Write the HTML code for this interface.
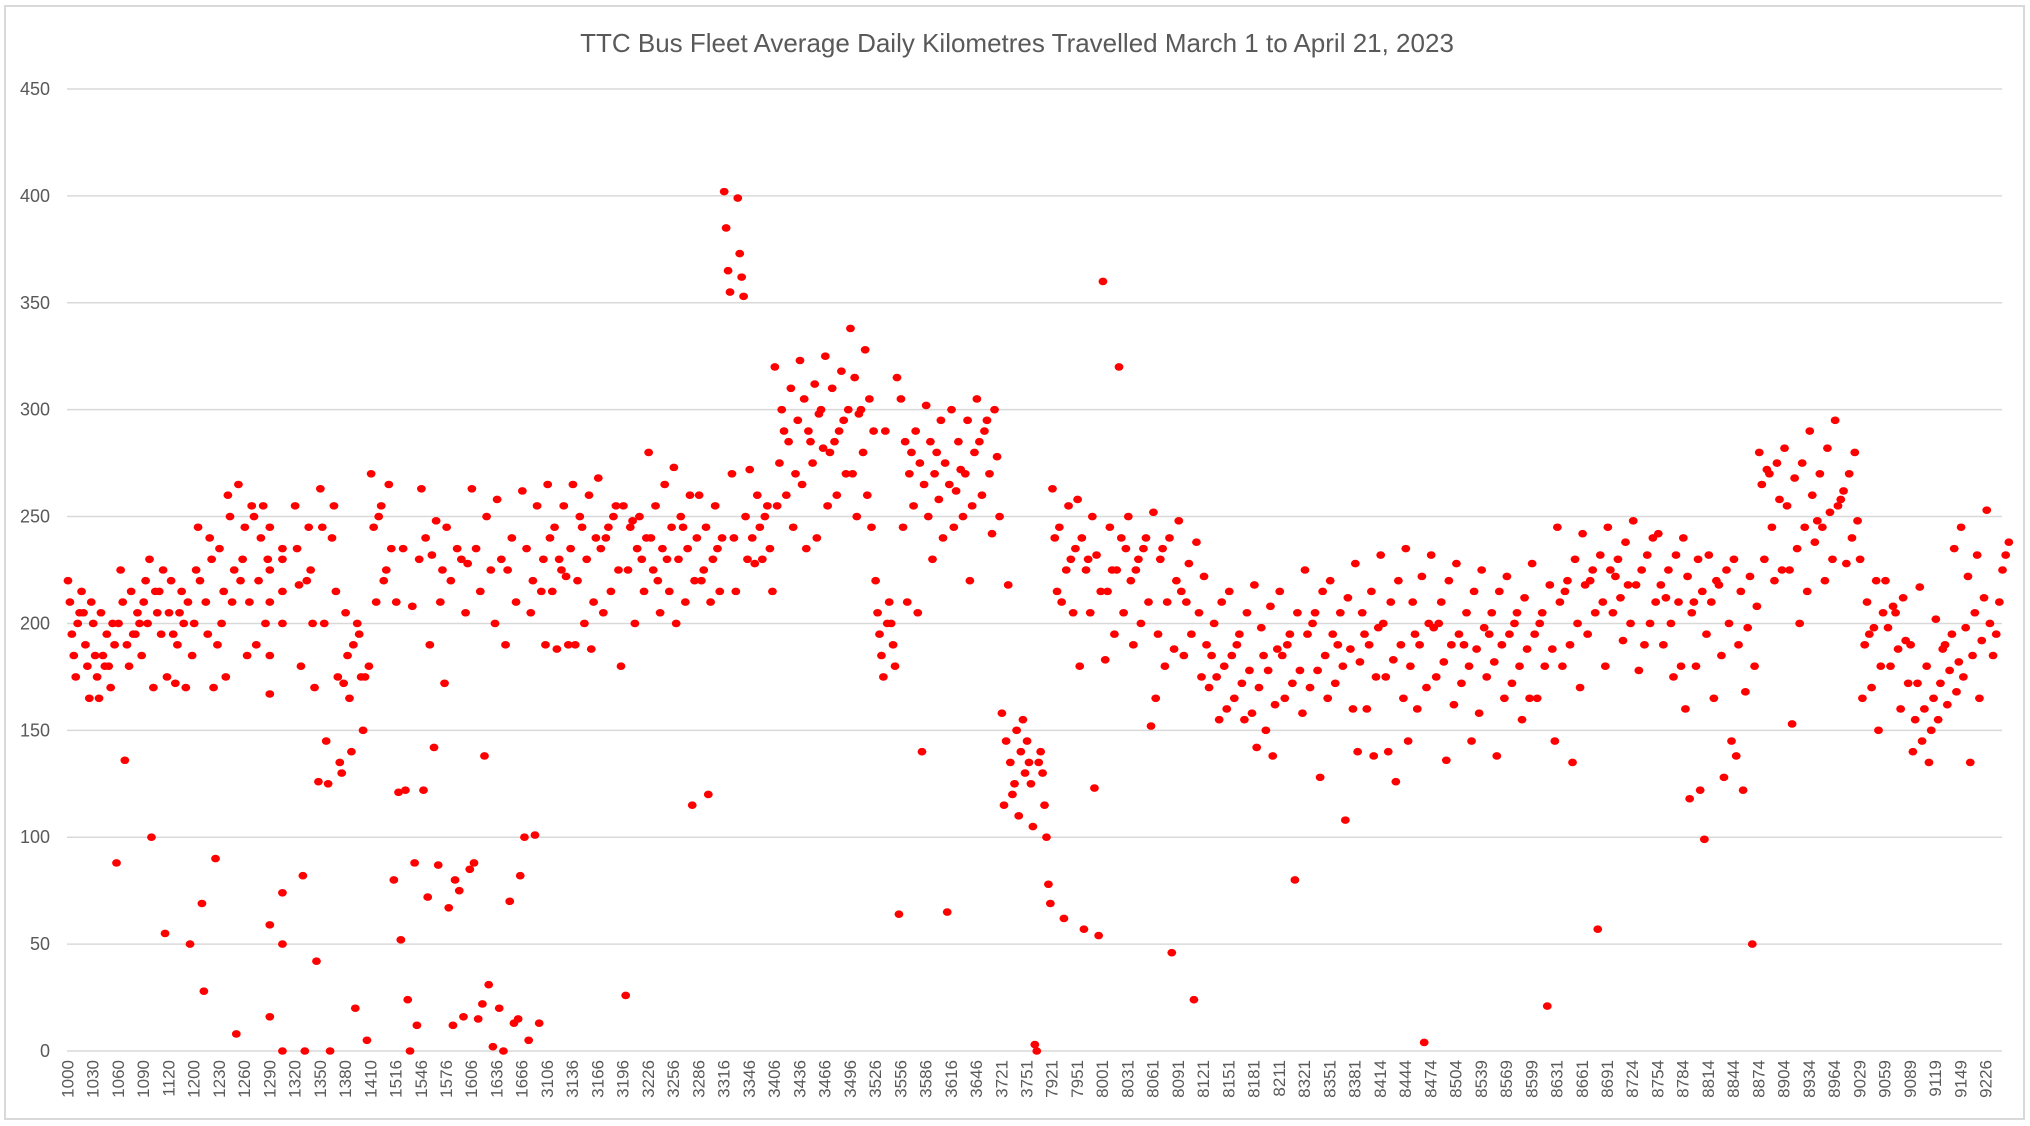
<!DOCTYPE html>
<html><head><meta charset="utf-8"><style>
html,body{margin:0;padding:0;background:#fff;}
svg{display:block;font-family:"Liberation Sans",sans-serif;}
</style></head><body>
<svg id="chart" width="2030" height="1126" viewBox="0 0 2030 1126">
<rect x="5" y="6" width="2019" height="1113" fill="#fff" stroke="#d9d9d9" stroke-width="2"/>
<text x="1017" y="52" text-anchor="middle" font-size="26" fill="#595959">TTC Bus Fleet Average Daily Kilometres Travelled March 1 to April 21, 2023</text>
<g id="grid"></g>
<g id="yticks"></g>
<g id="xticks"></g>
<g id="pts"></g>
</svg>
<script>
const categories = ["1000","1030","1060","1090","1120","1200","1230","1260","1290","1320","1350","1380","1410","1516","1546","1576","1606","1636","1666","3106","3136","3166","3196","3226","3256","3286","3316","3346","3406","3436","3466","3496","3526","3556","3586","3616","3646","3721","3751","7921","7951","8001","8031","8061","8091","8121","8151","8181","8211","8321","8351","8381","8414","8444","8474","8504","8539","8569","8599","8631","8661","8691","8724","8754","8784","8814","8844","8874","8904","8934","8964","9029","9059","9089","9119","9149","9226"];
const yTicks = [0,50,100,150,200,250,300,350,400,450];
const groupValues = [
[220,215,210,205,195,190,185,180,175,165,200,210,205],
[200,195,185,180,175,170,165,200,205,190,185,88,180],
[200,195,210,205,190,185,215,225,195,136,200,180],
[210,205,220,215,200,195,230,225,100,55,170,175,215],
[205,200,195,210,190,185,215,220,170,172,50,205],
[200,195,225,240,245,230,220,170,69,90,28,190,210],
[235,225,215,265,260,230,210,200,8,175,220,250],
[245,240,255,230,220,210,200,190,185,255,250],
[245,235,225,215,210,200,185,50,59,74,16,0,167,230],
[255,245,235,225,218,200,180,170,82,42,0,126,220],
[263,255,245,215,200,175,145,135,125,130,0,172,240],
[205,195,185,175,165,150,140,175,190,5,20,180,200],
[270,265,255,245,235,220,210,80,225,250],
[210,208,235,230,0,52,12,24,121,88,122],
[263,248,240,210,190,172,142,122,87,72,225,232],
[245,230,220,205,80,85,75,67,16,12,228,235],
[263,250,235,225,215,200,138,88,31,15,2,22],
[258,240,230,210,190,82,70,20,13,0,15,225],
[262,255,235,215,205,190,101,100,13,5,230,220],
[265,255,245,235,225,215,190,230,240,222,188],
[265,260,250,240,230,220,210,200,190,188,245],
[268,255,245,235,225,215,205,180,250,240],
[255,250,245,240,235,225,215,200,26,230,248],
[280,265,255,245,235,225,215,205,240,230,220],
[273,260,250,240,235,230,220,210,200,115,245],
[260,255,245,240,230,225,215,210,220,235,120],
[402,399,385,373,365,362,355,353,270,250,240,230,215],
[272,255,245,240,235,230,228,215,250,260],
[320,310,300,295,285,275,270,260,255,245,290],
[323,312,305,298,290,282,275,265,240,235,300,285],
[325,318,310,300,290,280,270,260,255,295,285],
[338,328,315,305,298,290,280,270,260,250,245,300],
[220,210,205,200,195,190,185,180,175,315,290,64,200],
[305,290,285,275,270,265,255,245,205,210,140,280],
[302,295,285,275,270,265,258,250,240,230,65,280],
[300,295,285,280,270,262,255,250,245,220,272],
[305,300,295,285,278,270,260,250,242,290],
[158,150,145,140,135,130,125,115,110,218,155,120],
[145,140,135,130,125,115,105,100,3,78,0,69,135],
[263,255,245,235,225,215,205,62,240,230,210],
[258,250,240,232,225,215,205,180,123,57,54,230],
[360,320,245,235,225,215,205,195,183,240,225],
[250,240,230,220,210,200,190,152,235,225],
[252,240,230,220,210,195,188,180,165,46,235],
[248,238,228,215,205,195,185,175,24,210],
[222,210,200,190,180,175,170,160,155,185],
[215,205,195,185,178,172,165,158,155,190],
[218,208,198,188,178,170,162,150,142,138,185],
[215,205,195,185,178,172,165,158,80,190],
[225,215,205,195,185,178,170,165,128,200],
[220,212,205,195,188,180,172,160,108,190],
[228,215,205,198,190,182,175,160,140,138,195],
[232,220,210,200,190,183,175,165,126,140],
[235,222,210,200,190,180,170,160,145,4,195],
[232,220,210,198,190,182,175,162,136,200],
[228,215,205,195,188,180,172,158,145,190],
[225,215,205,198,190,182,175,165,138,195],
[222,212,205,195,188,180,172,165,155,200],
[228,218,205,195,188,180,165,145,21,200],
[245,230,220,210,200,190,180,170,135,215],
[242,232,225,218,210,205,195,180,57,220],
[245,238,230,225,218,212,205,200,192,222],
[248,240,232,225,218,210,200,190,178],
[242,232,225,218,210,200,190,180,175,212],
[240,230,222,215,205,195,180,160,122,118,99,210],
[232,225,218,210,200,185,165,145,128,220],
[230,222,215,208,198,190,180,168,138,50,122],
[280,275,270,265,258,245,230,225,220,272],
[282,275,268,255,245,235,225,215,200,153],
[290,282,270,260,252,245,238,230,220,248],
[295,280,270,262,255,248,240,228,258],
[230,220,210,205,198,190,180,170,165,150,195],
[220,212,205,198,192,188,180,172,160,208],
[190,180,172,165,160,155,150,145,140,135,217],
[202,195,188,182,178,172,168,162,155,235,190],
[245,232,222,212,205,198,192,185,175,165,135],
[253,238,232,225,210,195,185,200]
];
const NS="http://www.w3.org/2000/svg";
const PL=67, PR=2002, PT=89, PB=1051, NCAT=2300, YMAX=450;
function xScale(c){return PL+(c/NCAT)*(PR-PL);}
function yScale(v){return PB-(v/YMAX)*(PB-PT);}
const grid=document.getElementById('grid'), yt=document.getElementById('yticks'), xt=document.getElementById('xticks'), pts=document.getElementById('pts');
yTicks.forEach(function(t){
  const l=document.createElementNS(NS,'line');
  l.setAttribute('x1',PL);l.setAttribute('x2',PR);l.setAttribute('y1',yScale(t));l.setAttribute('y2',yScale(t));
  l.setAttribute('stroke','#d9d9d9');l.setAttribute('stroke-width','1.5');
  
  
  grid.appendChild(l);
  const tx=document.createElementNS(NS,'text');
  tx.setAttribute('x',50);tx.setAttribute('y',yScale(t)+6);tx.setAttribute('text-anchor','end');
  tx.setAttribute('font-size','18');tx.setAttribute('fill','#595959');tx.textContent=t;
  
  
  yt.appendChild(tx);
});
categories.forEach(function(c,g){
  const x=xScale(g*30+0.5);
  const tx=document.createElementNS(NS,'text');
  tx.setAttribute('transform','translate('+(x+6)+',1060) rotate(-90)');
  tx.setAttribute('text-anchor','end');tx.setAttribute('font-size','17');tx.setAttribute('fill','#595959');
  tx.textContent=c;
  
  
  xt.appendChild(tx);
  const vals=groupValues[g], n=vals.length;
  vals.forEach(function(v,j){
    const p=(j*7)%n;
    const cx=xScale(g*30+(p+0.5)*30/n);
    const d=document.createElementNS(NS,'ellipse');
    d.setAttribute('cx',cx);d.setAttribute('cy',yScale(v));d.setAttribute('rx','4.4');d.setAttribute('ry','3.8');
    d.setAttribute('fill','#ff0000');
    
    
    pts.appendChild(d);
  });
});
</script>
</body></html>
